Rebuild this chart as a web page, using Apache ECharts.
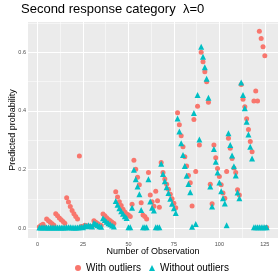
<!DOCTYPE html>
<html>
<head>
<meta charset="utf-8">
<script src="https://cdn.jsdelivr.net/npm/echarts@6/dist/echarts.min.js"></script>
<style>html,body{margin:0;padding:0;background:#fff}#c{width:280px;height:280px}</style>
</head>
<body>
<div id="c"></div>
<script>
const seriesNames = ['With outliers', 'Without outliers'];
const withOutliers = [
  0.005, 0.010, 0.013, 0.004,
  0.031, 0.025, 0.020, 0.015, 0.010,
  0.049, 0.042, 0.035, 0.029, 0.023, 0.017,
  0.104, 0.089, 0.074, 0.060, 0.049, 0.040, 0.031,
  0.246,
  0.006, 0.005, 0.010, 0.008, 0.007, 0.006, 0.005,
  0.025, 0.020, 0.016, 0.012, 0.009,
  0.048, 0.042, 0.036, 0.030, 0.025, 0.020, 0.016,
  0.124, 0.106, 0.090, 0.077, 0.065, 0.055, 0.048,
  0.045, 0.040,
  0.082, 0.232, 0.201, 0.174, 0.148, 0.087,
  0.045, 0.040, 0.031,
  0.190, 0.113, 0.090, 0.075,
  0.126, 0.094, 0.071,
  0.224, 0.190, 0.168, 0.150, 0.133, 0.116, 0.100, 0.085, 0.070,
  0.394, 0.353, 0.315, 0.278, 0.244, 0.212, 0.180, 0.155,
  0.076, 0.371, 0.193, 0.416, 0.284,
  0.600, 0.568, 0.534, 0.500, 0.430,
  0.150, 0.083,
  0.284, 0.240, 0.204, 0.176, 0.148, 0.120, 0.102,
  0.193,
  0.307, 0.273, 0.238, 0.205, 0.190, 0.131, 0.113,
  0.490, 0.440, 0.414, 0.373, 0.337, 0.296, 0.261,
  0.434, 0.468, 0.434,
  0.672, 0.647, 0.619, 0.588,
  0.002
];
const withoutOutliers = [
  0.002, 0.002, 0.003, 0.002,
  0.002, 0.002, 0.002, 0.002, 0.002,
  0.002, 0.002, 0.002, 0.002, 0.002, 0.002,
  0.003, 0.003, 0.003, 0.002, 0.002, 0.002, 0.002,
  0.003,
  0.004, 0.003, 0.008, 0.007, 0.010, 0.008, 0.006,
  0.018, 0.014, 0.010, 0.007, 0.005,
  0.034, 0.028, 0.022, 0.017, 0.013, 0.009, 0.006,
  0.093, 0.080, 0.068, 0.058, 0.049, 0.041, 0.035,
  0.003, 0.003,
  0.070, 0.199, 0.167, 0.142, 0.116, 0.062,
  0.003, 0.003, 0.003,
  0.167, 0.091, 0.070, 0.060,
  0.003, 0.003, 0.003,
  0.220, 0.185, 0.160, 0.140, 0.120, 0.100, 0.083, 0.068, 0.052,
  0.374, 0.330, 0.290, 0.250, 0.212, 0.179, 0.151, 0.123,
  0.005, 0.393, 0.014, 0.454, 0.303,
  0.619, 0.585, 0.549, 0.510, 0.445,
  0.142, 0.074,
  0.270, 0.227, 0.190, 0.156, 0.126, 0.102, 0.084,
  0.010,
  0.324, 0.284, 0.248, 0.211, 0.180, 0.122, 0.102,
  0.497, 0.454, 0.409, 0.363, 0.320, 0.278, 0.238,
  0.003, 0.003, 0.003, 0.003, 0.003, 0.003, 0.003, 0.003
];
const xTicks = [0, 25, 50, 75, 100, 125];
const xMinor = [12.5, 37.5, 62.5, 87.5, 112.5];
const yTicks = [0, 0.2, 0.4, 0.6];
const yMinor = [0.1, 0.3, 0.5, 0.7];

const obsNumber = withOutliers.map((_, i) => i + 1);
const toPairs = vals => vals.map((v, i) => [obsNumber[i], v]);

const FONT = 'Liberation Sans, Arial, Helvetica, sans-serif';
const gridLines = [
  ...xTicks.map(v => ({ xAxis: v, lineStyle: { width: 1 } })),
  ...xMinor.map(v => ({ xAxis: v, lineStyle: { width: 0.5 } })),
  ...yTicks.map(v => ({ yAxis: v, lineStyle: { width: 1 } })),
  ...yMinor.map(v => ({ yAxis: v, lineStyle: { width: 0.5 } }))
];

const chart = echarts.init(document.getElementById('c'), null, { renderer: 'canvas' });
chart.setOption({
  animation: false,
  backgroundColor: '#ffffff',
  textStyle: { fontFamily: FONT },
  title: {
    text: 'Second response category  \u03bb=0',
    left: 21, top: 3, padding: 0,
    textStyle: { fontSize: 13, fontWeight: 'normal', color: '#000', fontFamily: FONT }
  },
  grid: {
    left: 22, right: 2, top: 22, bottom: 42,
    show: true, backgroundColor: '#EBEBEB', borderWidth: 0,
    containLabel: false
  },
  legend: {
    left: 75, top: 263, padding: 0,
    itemWidth: 6, itemHeight: 6, itemGap: 8,
    textStyle: { fontSize: 10, color: '#000', fontFamily: FONT },
    data: [
      { name: seriesNames[0], icon: 'circle' },
      { name: seriesNames[1], icon: 'triangle' }
    ]
  },
  xAxis: {
    type: 'value', min: -5.25, max: 132.25,
    name: 'Number of Observation', nameLocation: 'middle', nameGap: 9.5,
    nameMoveOverlap: false,
    nameTextStyle: { fontSize: 9, color: '#000', fontFamily: FONT },
    axisLine: { show: false },
    axisTick: { show: true, customValues: xTicks, length: 2, lineStyle: { color: '#333', width: 0.5 } },
    axisLabel: { customValues: xTicks, fontSize: 5.5, color: '#4D4D4D', margin: 3, fontFamily: FONT },
    splitLine: { show: false }
  },
  yAxis: {
    type: 'value', min: -0.0335, max: 0.7035,
    name: 'Predicted probability', nameLocation: 'middle', nameGap: 11,
    nameMoveOverlap: false,
    nameTextStyle: { fontSize: 9, color: '#000', fontFamily: FONT },
    axisLine: { show: false },
    axisTick: { show: true, customValues: yTicks, length: 2, lineStyle: { color: '#333', width: 0.5 } },
    axisLabel: { customValues: yTicks, fontSize: 5.5, color: '#4D4D4D', margin: 2, fontFamily: FONT,
      formatter: v => Number(v).toFixed(1) },
    splitLine: { show: false }
  },
  series: [
    {
      type: 'scatter', name: '__grid', data: [], silent: true, z: 1,
      markLine: {
        silent: true, symbol: 'none', z: 1, animation: false,
        label: { show: false },
        lineStyle: { color: '#ffffff', type: 'solid' },
        emphasis: { disabled: true },
        data: gridLines
      }
    },
    {
      type: 'scatter', name: seriesNames[0], data: toPairs(withOutliers),
      symbol: 'circle', symbolSize: 5, z: 3,
      itemStyle: { color: '#F8766D', opacity: 1 },
      emphasis: { disabled: true }
    },
    {
      type: 'scatter', name: seriesNames[1], data: toPairs(withoutOutliers),
      symbol: 'triangle', symbolSize: 6, z: 4,
      itemStyle: { color: '#00BFC4', opacity: 1 },
      emphasis: { disabled: true }
    }
  ]
});
</script>
</body>
</html>
